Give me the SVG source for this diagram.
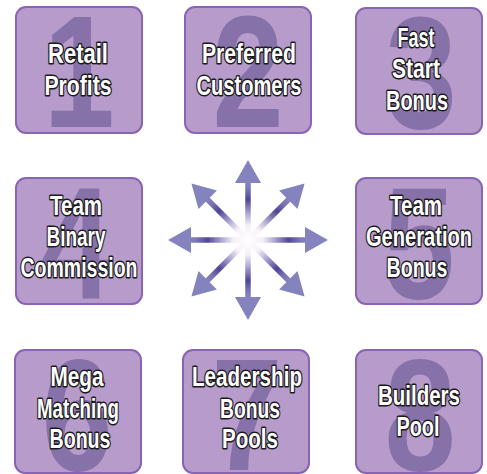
<svg xmlns="http://www.w3.org/2000/svg" width="487" height="474" viewBox="0 0 487 474">
<defs>
<style>
.box{fill:#b79bcb;stroke:#8a64b4;stroke-width:2}
.dg{font-family:"Liberation Sans",Arial,sans-serif;font-weight:bold;font-size:160px;fill:#8771a9;text-anchor:middle}
.lbl{font-family:"Liberation Sans",Arial,sans-serif;font-weight:bold;font-size:27px;fill:#ffffff;stroke:#1a1a1a;stroke-width:3;paint-order:stroke;stroke-linejoin:round;text-anchor:middle}
.head{fill:#8583bd}
.shaft{stroke:url(#rg);stroke-width:5.5;fill:none}
</style>
<radialGradient id="rg" gradientUnits="userSpaceOnUse" cx="0" cy="0" r="58">
<stop offset="0" stop-color="#ffffff"/>
<stop offset="0.25" stop-color="#f6f1f8"/>
<stop offset="0.45" stop-color="#b0a8d4"/>
<stop offset="0.7" stop-color="#4f4696"/>
<stop offset="0.88" stop-color="#7a76b4"/>
<stop offset="1" stop-color="#8583bd"/>
</radialGradient>
<polygon id="hd" points="0,-80 -13,-57 13,-57"/>
</defs>

<g id="connectors" transform="translate(248,240)">
<g class="shaft">
<line x1="0" y1="0" x2="0" y2="-58"/>
<line x1="0" y1="0" x2="0" y2="-58" transform="rotate(45)"/>
<line x1="0" y1="0" x2="0" y2="-58" transform="rotate(90)"/>
<line x1="0" y1="0" x2="0" y2="-58" transform="rotate(135)"/>
<line x1="0" y1="0" x2="0" y2="-58" transform="rotate(180)"/>
<line x1="0" y1="0" x2="0" y2="-58" transform="rotate(225)"/>
<line x1="0" y1="0" x2="0" y2="-58" transform="rotate(270)"/>
<line x1="0" y1="0" x2="0" y2="-58" transform="rotate(315)"/>
</g>
<g class="head">
<use href="#hd"/>
<use href="#hd" transform="rotate(45)"/>
<use href="#hd" transform="rotate(90)"/>
<use href="#hd" transform="rotate(135)"/>
<use href="#hd" transform="rotate(180)"/>
<use href="#hd" transform="rotate(225)"/>
<use href="#hd" transform="rotate(270)"/>
<use href="#hd" transform="rotate(315)"/>
</g>
</g>

<g id="node1">
<rect class="box" x="16" y="7" width="126" height="126" rx="10"/>
<text class="dg" transform="translate(79,127) scale(0.8,1)">1</text>
<text class="lbl" x="78" y="63" textLength="60" lengthAdjust="spacingAndGlyphs">Retail</text>
<text class="lbl" x="78" y="95" textLength="67" lengthAdjust="spacingAndGlyphs">Profits</text>
</g>

<g id="node2">
<rect class="box" x="185" y="7" width="126" height="126" rx="10"/>
<text class="dg" transform="translate(248,127) scale(0.8,1)">2</text>
<text class="lbl" x="249" y="63" textLength="94" lengthAdjust="spacingAndGlyphs">Preferred</text>
<text class="lbl" x="249" y="95" textLength="105" lengthAdjust="spacingAndGlyphs">Customers</text>
</g>

<g id="node3">
<rect class="box" x="356" y="8" width="126" height="126" rx="10"/>
<text class="dg" transform="translate(421,128) scale(0.8,1)">3</text>
<text class="lbl" x="416" y="47" textLength="37" lengthAdjust="spacingAndGlyphs">Fast</text>
<text class="lbl" x="416" y="78" textLength="48" lengthAdjust="spacingAndGlyphs">Start</text>
<text class="lbl" x="417" y="110" textLength="62" lengthAdjust="spacingAndGlyphs">Bonus</text>
</g>

<g id="node4">
<rect class="box" x="16" y="178" width="126" height="126" rx="10"/>
<text class="dg" transform="translate(76,298) scale(0.8,1)">4</text>
<text class="lbl" x="76" y="215" textLength="52" lengthAdjust="spacingAndGlyphs">Team</text>
<text class="lbl" x="76" y="246" textLength="59" lengthAdjust="spacingAndGlyphs">Binary</text>
<text class="lbl" x="79" y="277" textLength="117" lengthAdjust="spacingAndGlyphs">Commission</text>
</g>

<g id="node5">
<rect class="box" x="356" y="178" width="126" height="126" rx="10"/>
<text class="dg" transform="translate(419,298) scale(0.8,1)">5</text>
<text class="lbl" x="416" y="215" textLength="52" lengthAdjust="spacingAndGlyphs">Team</text>
<text class="lbl" x="419" y="246" textLength="106" lengthAdjust="spacingAndGlyphs">Generation</text>
<text class="lbl" x="417" y="277" textLength="61" lengthAdjust="spacingAndGlyphs">Bonus</text>
</g>

<g id="node6">
<rect class="box" x="15" y="350" width="126" height="123" rx="10"/>
<text class="dg" transform="translate(77,470) scale(0.8,1)">6</text>
<text class="lbl" x="77" y="386" textLength="53" lengthAdjust="spacingAndGlyphs">Mega</text>
<text class="lbl" x="78" y="418" textLength="82" lengthAdjust="spacingAndGlyphs">Matching</text>
<text class="lbl" x="80" y="448" textLength="61" lengthAdjust="spacingAndGlyphs">Bonus</text>
</g>

<g id="node7">
<rect class="box" x="183" y="350" width="126" height="123" rx="10"/>
<text class="dg" transform="translate(247,470) scale(0.8,1)">7</text>
<text class="lbl" x="247" y="386" textLength="110" lengthAdjust="spacingAndGlyphs">Leadership</text>
<text class="lbl" x="250" y="418" textLength="60" lengthAdjust="spacingAndGlyphs">Bonus</text>
<text class="lbl" x="250" y="448" textLength="56" lengthAdjust="spacingAndGlyphs">Pools</text>
</g>

<g id="node8">
<rect class="box" x="356" y="350" width="126" height="123" rx="10"/>
<text class="dg" transform="translate(420,470) scale(0.8,1)">8</text>
<text class="lbl" x="419" y="405" textLength="82" lengthAdjust="spacingAndGlyphs">Builders</text>
<text class="lbl" x="418" y="436" textLength="43" lengthAdjust="spacingAndGlyphs">Pool</text>
</g>
</svg>
